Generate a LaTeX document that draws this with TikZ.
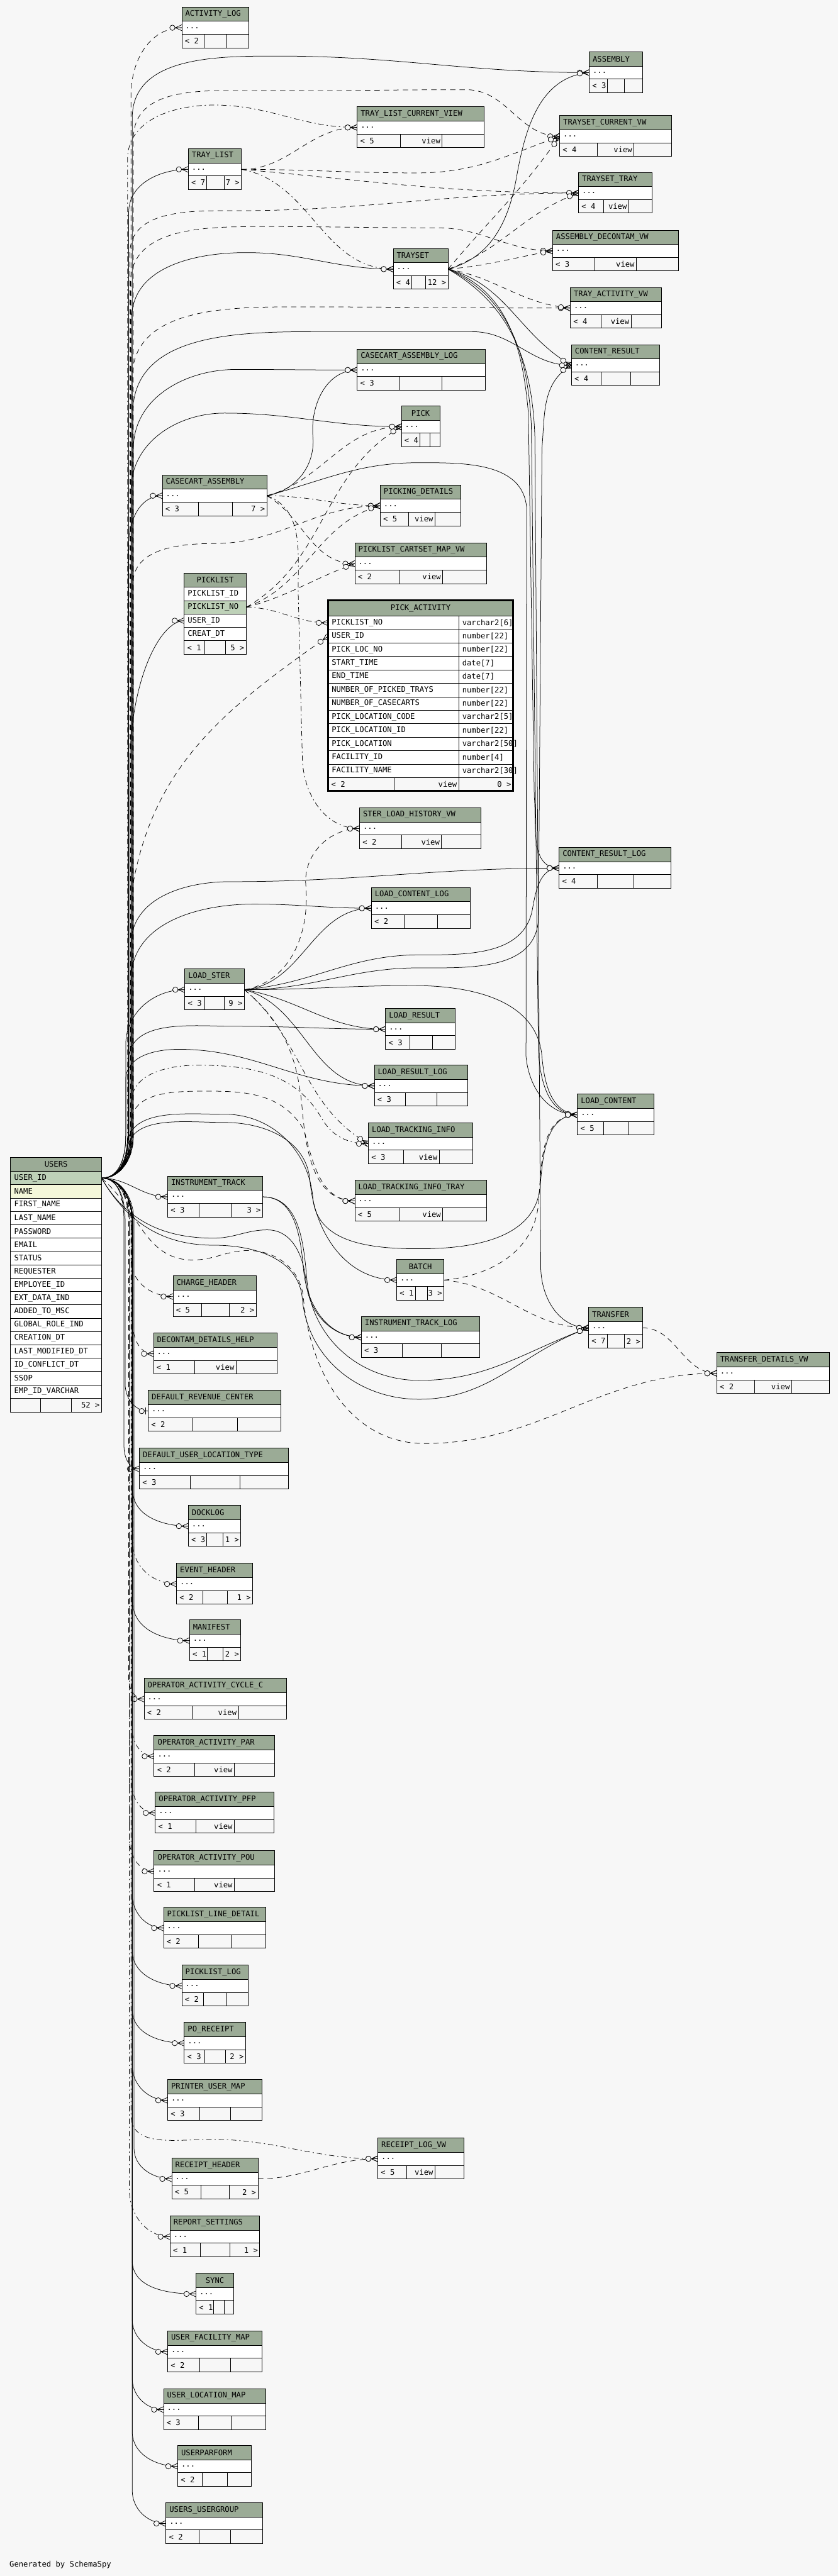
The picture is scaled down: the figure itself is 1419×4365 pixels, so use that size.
\documentclass[tikz,border=0pt]{standalone}
\usepackage{fontspec}
\setmonofont{DejaVu Sans Mono}
\usepackage{tikz}
\usetikzlibrary{arrows.meta,positioning}
\definecolor{schemabg}{HTML}{F7F7F7}
\definecolor{schemahead}{HTML}{9BAB96}
\definecolor{schemakey}{HTML}{BED1B8}
\definecolor{schemaidx}{HTML}{F4F7DA}
\pgfdeclarelayer{background}
\pgfdeclarelayer{edges}
\pgfsetlayers{background,edges,main}

\pgfdeclarearrow{
  name = Crowo,
  setup code = {
    \pgfarrowssettipend{0pt}
    \pgfarrowssetlineend{0pt}
    \pgfarrowssetbackend{-21pt}
    \pgfarrowshullpoint{0pt}{5pt}
    \pgfarrowshullpoint{0pt}{-5pt}
    \pgfarrowshullpoint{-21pt}{0pt}
  },
  drawing code = {
    \pgfsetdash{}{0pt}
    \pgfpathmoveto{\pgfqpoint{0pt}{5pt}}
    \pgfpathlineto{\pgfqpoint{-11pt}{0pt}}
    \pgfpathlineto{\pgfqpoint{0pt}{-5pt}}
    \pgfpathmoveto{\pgfqpoint{-11pt}{0pt}}
    \pgfpathlineto{\pgfqpoint{0pt}{0pt}}
    \pgfusepathqstroke
    \pgfpathcircle{\pgfqpoint{-16pt}{0pt}}{4.5pt}
    \pgfsetfillcolor{schemabg}
    \pgfusepathqfillstroke
  }
}
\pgfdeclarearrow{
  name = Teeo,
  setup code = {
    \pgfarrowssettipend{0pt}
    \pgfarrowssetlineend{0pt}
    \pgfarrowssetbackend{-16pt}
    \pgfarrowshullpoint{0pt}{5pt}
    \pgfarrowshullpoint{0pt}{-5pt}
    \pgfarrowshullpoint{-16pt}{0pt}
  },
  drawing code = {
    \pgfsetdash{}{0pt}
    \pgfpathmoveto{\pgfqpoint{-4pt}{6pt}}
    \pgfpathlineto{\pgfqpoint{-4pt}{-6pt}}
    \pgfusepathqstroke
    \pgfpathcircle{\pgfqpoint{-11pt}{0pt}}{4.5pt}
    \pgfsetfillcolor{schemabg}
    \pgfusepathqfillstroke
  }
}

\newcommand{\dbtable}[6][align=left]{%
  \pgfmathsetlengthmacro\tblw{#5-12}%
  \node[tablehead, minimum width=#5, text width=\tblw, #1] (#2) at (#3,-#4) {#6};
  \node[tablerow, minimum width=#5, text width=\tblw, below=0pt of #2] (#2-r) {...};
  \node[tablefoot, minimum width=#5, below=0pt of #2-r] (#2-f) {};
}
\newcommand{\dbfoot}[6]{%
  \draw[line width=0.9pt] (#2,0 |- #1-f.north) -- (#2,0 |- #1-f.south)
    (#3,0 |- #1-f.north) -- (#3,0 |- #1-f.south);
  \node[cellleft] (#1-a) at (#1-f.west) {#4};
  \node[cellright] (#1-b) at (#3,0 |- #1-f.west) {#5};
  \node[cellright] (#1-c) at (#1-f.east) {#6};
}

\begin{document}
\begin{tikzpicture}[
    x=1pt, y=1pt,
    font=\ttfamily\fontsize{13}{15}\selectfont,
    tablehead/.style={draw, line width=0.9pt, fill=schemahead, anchor=north west,
      minimum height=24, inner xsep=6, inner ysep=0, outer sep=0, align=left},
    tablerow/.style={draw, line width=0.9pt, fill=white, minimum height=22,
      inner xsep=6, inner ysep=0, outer sep=0, align=left},
    tablefoot/.style={draw, line width=0.9pt, fill=schemabg, minimum height=23,
      inner sep=0, outer sep=0},
    cellleft/.style={anchor=west, inner xsep=5, inner ysep=0},
    cellright/.style={anchor=east, inner xsep=3, inner ysep=0},
    fk/.style={line width=0.8pt, -Crowo},
    implied/.style={fk, dash pattern=on 9pt off 7pt},
    viewdep/.style={fk, dash pattern=on 9pt off 5pt on 2pt off 5pt}
  ]
  \useasboundingbox (0,0) rectangle (1419,-4365);
  \begin{pgfonlayer}{background}
    \fill[schemabg] (0,0) rectangle (1419,-4365);
  \end{pgfonlayer}

  \dbtable{activitylog}{308}{12}{113}{ACTIVITY\_LOG}
  \dbtable{assembly}{998}{88}{90}{ASSEMBLY}
  \dbtable{traylistcv}{605}{181}{215}{TRAY\_LIST\_CURRENT\_VIEW}
  \dbtable{traysetcv}{948}{196}{189}{TRAYSET\_CURRENT\_VW}
  \dbtable{traylist}{319}{252}{90}{TRAY\_LIST}
  \dbtable{traysettray}{980}{292}{125}{TRAYSET\_TRAY}
  \dbtable{asmdecon}{936}{390}{213}{ASSEMBLY\_DECONTAM\_VW}
  \dbtable{trayset}{666}{421}{93}{TRAYSET}
  \dbtable{trayactvw}{966}{487}{154}{TRAY\_ACTIVITY\_VW}
  \dbtable{contentresult}{968}{584}{149}{CONTENT\_RESULT}
  \dbtable{casecartlog}{605}{592}{217}{CASECART\_ASSEMBLY\_LOG}
  \dbtable[align=center]{pick}{680}{688}{65}{PICK}
  \dbtable{casecart}{275}{805}{177}{CASECART\_ASSEMBLY}
  \dbtable{pickingdet}{644}{822}{137}{PICKING\_DETAILS}
  \dbtable{cartsetmap}{601}{920}{223}{PICKLIST\_CARTSET\_MAP\_VW}
  \dbtable{sterhist}{609}{1369}{206}{STER\_LOAD\_HISTORY\_VW}
  \dbtable{contentlog}{947}{1436}{189}{CONTENT\_RESULT\_LOG}
  \dbtable{loadcontentlog}{629}{1504}{168}{LOAD\_CONTENT\_LOG}
  \dbtable{loadster}{313}{1642}{101}{LOAD\_STER}
  \dbtable{loadresult}{653}{1709}{118}{LOAD\_RESULT}
  \dbtable{loadresultlog}{634}{1805}{158}{LOAD\_RESULT\_LOG}
  \dbtable{loadtrack}{624}{1903}{177}{LOAD\_TRACKING\_INFO}
  \dbtable{loadtracktray}{601}{2000}{223}{LOAD\_TRACKING\_INFO\_TRAY}
  \dbtable{loadcontent}{978}{1854}{130}{LOAD\_CONTENT}
  \dbtable{insttrack}{284}{1993}{161}{INSTRUMENT\_TRACK}
  \dbtable[align=center]{batch}{672}{2134}{80}{BATCH}
  \dbtable{insttracklog}{612}{2231}{201}{INSTRUMENT\_TRACK\_LOG}
  \dbtable{transfer}{997}{2215}{91}{TRANSFER}
  \dbtable{transfervw}{1214}{2292}{191}{TRANSFER\_DETAILS\_VW}
  \dbtable{chargehdr}{293}{2162}{141}{CHARGE\_HEADER}
  \dbtable{decontamhelp}{260}{2259}{209}{DECONTAM\_DETAILS\_HELP}
  \dbtable{revcenter}{251}{2356}{225}{DEFAULT\_REVENUE\_CENTER}
  \dbtable{locationtype}{236}{2454}{253}{DEFAULT\_USER\_LOCATION\_TYPE}
  \dbtable{docklog}{319}{2551}{89}{DOCKLOG}
  \dbtable{eventhdr}{299}{2649}{129}{EVENT\_HEADER}
  \dbtable{manifest}{321}{2745}{87}{MANIFEST}
  \dbtable{opcycle}{244}{2844}{241}{OPERATOR\_ACTIVITY\_CYCLE\_C}
  \dbtable{oppar}{261}{2941}{204}{OPERATOR\_ACTIVITY\_PAR}
  \dbtable{oppfp}{263}{3037}{201}{OPERATOR\_ACTIVITY\_PFP}
  \dbtable{oppou}{261}{3136}{204}{OPERATOR\_ACTIVITY\_POU}
  \dbtable{linedetail}{277}{3232}{173}{PICKLIST\_LINE\_DETAIL}
  \dbtable{picklistlog}{308}{3330}{112}{PICKLIST\_LOG}
  \dbtable{poreceipt}{312}{3427}{104}{PO\_RECEIPT}
  \dbtable{printermap}{284}{3524}{160}{PRINTER\_USER\_MAP}
  \dbtable{receiptvw}{640}{3623}{146}{RECEIPT\_LOG\_VW}
  \dbtable{receipthdr}{291}{3657}{146}{RECEIPT\_HEADER}
  \dbtable{reportset}{288}{3755}{152}{REPORT\_SETTINGS}
  \dbtable[align=center]{sync}{332}{3852}{64}{SYNC}
  \dbtable{facilitymap}{284}{3950}{160}{USER\_FACILITY\_MAP}
  \dbtable{locationmap}{277}{4048}{173}{USER\_LOCATION\_MAP}
  \dbtable{userparform}{301}{4144}{125}{USERPARFORM}
  \dbtable{usergroup}{281}{4241}{164}{USERS\_USERGROUP}

  \dbfoot{activitylog}{346}{384}{< 2}{}{}
  \dbfoot{assembly}{1029}{1058}{< 3}{}{}
  \dbfoot{traylistcv}{678}{749}{< 5}{view}{}
  \dbfoot{traysetcv}{1012}{1074}{< 4}{view}{}
  \dbfoot{traylist}{350}{380}{< 7}{}{7 >}
  \dbfoot{traysettray}{1022}{1065}{< 4}{view}{}
  \dbfoot{asmdecon}{1008}{1078}{< 3}{view}{}
  \dbfoot{trayset}{697}{721}{< 4}{}{12 >}
  \dbfoot{trayactvw}{1018}{1069}{< 4}{view}{}
  \dbfoot{contentresult}{1018}{1068}{< 4}{}{}
  \dbfoot{casecartlog}{677}{749}{< 3}{}{}
  \dbfoot{pick}{711}{728}{< 4}{}{}
  \dbfoot{casecart}{336}{394}{< 3}{}{7 >}
  \dbfoot{pickingdet}{692}{737}{< 5}{view}{}
  \dbfoot{cartsetmap}{676}{750}{< 2}{view}{}
  \dbfoot{sterhist}{680}{748}{< 2}{view}{}
  \dbfoot{contentlog}{1012}{1074}{< 4}{}{}
  \dbfoot{loadcontentlog}{685}{741}{< 2}{}{}
  \dbfoot{loadster}{347}{380}{< 3}{}{9 >}
  \dbfoot{loadresult}{694}{733}{< 3}{}{}
  \dbfoot{loadresultlog}{687}{740}{< 3}{}{}
  \dbfoot{loadtrack}{684}{744}{< 3}{view}{}
  \dbfoot{loadtracktray}{676}{750}{< 5}{view}{}
  \dbfoot{loadcontent}{1022}{1065}{< 5}{}{}
  \dbfoot{insttrack}{337}{392}{< 3}{}{3 >}
  \dbfoot{batch}{704}{724}{< 1}{}{3 >}
  \dbfoot{insttracklog}{681}{748}{< 3}{}{}
  \dbfoot{transfer}{1029}{1058}{< 7}{}{2 >}
  \dbfoot{transfervw}{1278}{1341}{< 2}{view}{}
  \dbfoot{chargehdr}{341}{388}{< 5}{}{2 >}
  \dbfoot{decontamhelp}{330}{400}{< 1}{view}{}
  \dbfoot{revcenter}{327}{402}{< 2}{}{}
  \dbfoot{locationtype}{322}{406}{< 3}{}{}
  \dbfoot{docklog}{350}{378}{< 3}{}{1 >}
  \dbfoot{eventhdr}{344}{385}{< 2}{}{1 >}
  \dbfoot{manifest}{351}{378}{< 1}{}{2 >}
  \dbfoot{opcycle}{325}{404}{< 2}{view}{}
  \dbfoot{oppar}{330}{397}{< 2}{view}{}
  \dbfoot{oppfp}{332}{397}{< 1}{view}{}
  \dbfoot{oppou}{330}{397}{< 1}{view}{}
  \dbfoot{linedetail}{336}{392}{< 2}{}{}
  \dbfoot{picklistlog}{345}{384}{< 2}{}{}
  \dbfoot{poreceipt}{347}{382}{< 3}{}{2 >}
  \dbfoot{printermap}{338}{391}{< 3}{}{}
  \dbfoot{receiptvw}{689}{737}{< 5}{view}{}
  \dbfoot{receipthdr}{340}{388}{< 5}{}{2 >}
  \dbfoot{reportset}{339}{389}{< 1}{}{1 >}
  \dbfoot{sync}{362}{380}{< 1}{}{}
  \dbfoot{facilitymap}{338}{391}{< 2}{}{}
  \dbfoot{locationmap}{336}{392}{< 3}{}{}
  \dbfoot{userparform}{343}{385}{< 2}{}{}
  \dbfoot{usergroup}{337}{391}{< 2}{}{}

  \node[tablehead, minimum width=154, text width=142, align=center] (users) at (18,-1961) {USERS};
  \node[tablerow, anchor=north west, minimum width=154, minimum height=22.6, text width=142, fill=schemakey] (users-1) at (18,-1985) {USER\_ID};
  \node[tablerow, anchor=north west, minimum width=154, minimum height=22.6, text width=142, fill=schemaidx] (users-2) at (18,-2007.6) {NAME};
  \foreach \col [count=\i from 3] in {FIRST\_NAME, LAST\_NAME, PASSWORD, EMAIL, STATUS, REQUESTER, EMPLOYEE\_ID, EXT\_DATA\_IND, ADDED\_TO\_MSC, GLOBAL\_ROLE\_IND, CREATION\_DT, LAST\_MODIFIED\_DT, ID\_CONFLICT\_DT, SSOP, EMP\_ID\_VARCHAR}
    \node[tablerow, anchor=north west, minimum width=154, minimum height=22.6, text width=142] (users-\i) at (18,{-1985-22.6*(\i-1)}) {\col};
  \node[tablefoot, anchor=north west, minimum width=154, minimum height=23.3] (users-f) at (18,-2369.2) {};
  \dbfoot{users}{69}{121}{}{}{52 >}

  \node[tablehead, minimum width=105, text width=93, align=center] (picklist) at (312,-971) {PICKLIST};
  \node[tablerow, minimum width=105, minimum height=22.7, text width=93, below=0pt of picklist] (picklist-1) {PICKLIST\_ID};
  \node[tablerow, minimum width=105, minimum height=22.7, text width=93, fill=schemakey, below=0pt of picklist-1] (picklist-2) {PICKLIST\_NO};
  \node[tablerow, minimum width=105, minimum height=22.7, text width=93, below=0pt of picklist-2] (picklist-3) {USER\_ID};
  \node[tablerow, minimum width=105, minimum height=22.7, text width=93, below=0pt of picklist-3] (picklist-4) {CREAT\_DT};
  \node[tablefoot, minimum width=105, below=0pt of picklist-4] (picklist-f) {};
  \dbfoot{picklist}{347}{382}{< 1}{}{5 >}

  \node[tablehead, minimum width=313, minimum height=27, text width=301, align=center] (pickact) at (556,-1017) {PICK\_ACTIVITY};
  \foreach \col/\typ [count=\i] in {{PICKLIST\_NO}/{varchar2[6]}, {USER\_ID}/{number[22]}, {PICK\_LOC\_NO}/{number[22]}, {START\_TIME}/{date[7]}, {END\_TIME}/{date[7]}, {NUMBER\_OF\_PICKED\_TRAYS}/{number[22]}, {NUMBER\_OF\_CASECARTS}/{number[22]}, {PICK\_LOCATION\_CODE}/{varchar2[5]}, {PICK\_LOCATION\_ID}/{number[22]}, {PICK\_LOCATION}/{varchar2[50]}, {FACILITY\_ID}/{number[4]}, {FACILITY\_NAME}/{varchar2[30]}} {
    \node[tablerow, anchor=north west, minimum width=221, minimum height=22.8, text width=209] (pickact-\i) at (556,{-1044-22.8*(\i-1)}) {\col};
    \node[tablerow, anchor=north west, minimum width=92, minimum height=22.8, text width=80] (pickact-t\i) at (777,{-1044-22.8*(\i-1)}) {\typ};
  }
  \node[tablefoot, anchor=north west, minimum width=313, minimum height=22.4] (pickact-f) at (556,-1317.6) {};
  \dbfoot{pickact}{668}{777}{< 2}{view}{0 >}
  \draw[line width=3pt] (pickact.north west) rectangle (pickact-f.south east);

  \node[anchor=west, inner sep=0] (credit) at (16,-4346) {Generated by SchemaSpy};

  \begin{pgfonlayer}{edges}
  \draw[implied] (users-1.east) to[out=0,in=-90] (222,-1925) -- (222,-160) to[out=90,in=180] (activitylog-r.west);
  \draw[fk] (users-1.east) to[out=0,in=-90] (224,-1925) -- (224,-200) to[out=90,in=180] (470,-95) to[out=0,in=180] (assembly-r.west);
  \draw[implied] (users-1.east) to[out=0,in=-90] (226,-1925) -- (226,-235) to[out=90,in=180] (453,-154) to[out=0,in=180] (790,-152) to[out=0,in=180] (traysetcv-r.west);
  \draw[viewdep] (users-1.east) to[out=0,in=-90] (216,-1925) -- (216,-270) to[out=90,in=180] (362,-178) to[out=0,in=180] (traylistcv-r.west);
  \draw[fk] (users-1.east) to[out=0,in=-90] (218,-1925) -- (218,-360) to[out=90,in=180] (traylist-r.west);
  \draw[implied] (users-1.east) to[out=0,in=-90] (220,-1925) -- (220,-430) to[out=90,in=180] (400,-357) to[out=0,in=180] (traysettray-r.west);
  \draw[implied] (users-1.east) to[out=0,in=-90] (221,-1925) -- (221,-480) to[out=90,in=180] (453,-384) to[out=0,in=180] (740,-386) to[out=0,in=180] (asmdecon-r.west);
  \draw[fk] (users-1.east) to[out=0,in=-90] (223,-1925) -- (223,-540) to[out=90,in=180] (417,-428) to[out=0,in=180] (trayset-r.west);
  \draw[implied] (users-1.east) to[out=0,in=-90] (224,-1925) -- (224,-640) to[out=90,in=180] (500,-520) to[out=0,in=180] (trayactvw-r.west);
  \draw[fk] (users-1.east) to[out=0,in=-90] (225,-1925) -- (225,-700) to[out=90,in=180] (560,-562) -- (800,-562) to[out=0,in=180] (contentresult-r.west);
  \draw[fk] (users-1.east) to[out=0,in=-90] (226,-1925) -- (226,-760) to[out=90,in=180] (400,-626) to[out=0,in=180] (casecartlog-r.west);
  \draw[fk] (users-1.east) to[out=0,in=-90] (222,-1925) -- (222,-830) to[out=90,in=180] (380,-700) to[out=0,in=180] (pick-r.west);
  \draw[fk] (users-1.east) to[out=0,in=-90] (217,-1925) -- (217,-930) to[out=90,in=180] (casecart-r.west);
  \draw[implied] (users-1.east) to[out=0,in=-90] (225,-1925) -- (225,-990) to[out=90,in=180] (362,-921) to[out=0,in=180] (pickingdet-r.west);
  \draw[fk] (users-1.east) to[out=0,in=-90] (220,-1925) -- (220,-1300) to[out=90,in=180,out distance=150,in distance=40] (picklist-3.west);
  \draw[implied] (users-1.east) to[out=0,in=-90] (225,-1925) -- (225,-1500) to[out=80,in=215] (pickact-2.west);
  \draw[fk] (users-1.east) to[out=0,in=-90] (222,-1925) -- (222,-1600) to[out=90,in=180] (389,-1494) to[out=0,in=180] (contentlog-r.west);
  \draw[fk] (users-1.east) to[out=0,in=-90] (222,-1925) -- (222,-1660) to[out=90,in=180] (430,-1532) to[out=0,in=180] (loadcontentlog-r.west);
  \draw[fk] (users-1.east) to[out=0,in=-90] (213,-1925) -- (213,-1770) to[out=90,in=180] (loadster-r.west);
  \draw[fk] (users-1.east) to[out=0,in=-90] (217,-1925) -- (217,-1800) to[out=90,in=180] (399,-1739) to[out=0,in=180] (loadresult-r.west);
  \draw[fk] (users-1.east) to[out=0,in=-90] (213,-1925) -- (213,-1830) to[out=90,in=180] (303,-1778) to[out=0,in=180] (loadresultlog-r.west);
  \draw[viewdep] (users-1.east) to[out=0,in=-90] (222,-1915) -- (222,-1870) to[out=90,in=180] (335,-1805) to[out=0,in=120] (545,-1895) to[out=-60,in=180] (loadtrack-r.west);
  \draw[implied] (users-1.east) to[out=0,in=-90] (222,-1905) to[out=90,in=180] (362,-1849) to[out=0,in=120] (515,-1915) to[out=-75,in=180] (loadtracktray-r.west);
  \draw[fk] (users-1.east) to[out=0,in=-90] (215,-1955) to[out=90,in=180] (380,-1902) to[out=0,in=95] (525,-2000) to[out=-85,in=180] (batch-r.west);
  \draw[fk] (users-1.east) to[out=0,in=-90] (215,-1945) to[out=90,in=180] (380,-1888) to[out=0,in=95] (530,-2030) to[out=-85,in=180] (710,-2116) to[out=0,in=-95] (915,-2010) to[out=85,in=180] (loadcontent-r.west);
  \draw[fk] (users-1.east) to[out=0,in=180] (insttrack-r.west);
  \draw[fk] (users-1.east) to[out=-60,in=180] (362,-2098) to[out=0,in=180] (453,-2084) to[out=0,in=95] (518,-2170) to[out=-85,in=180] (insttracklog-r.west);
  \draw[fk] (users-1.east) to[out=-60,in=180] (362,-2110) to[out=0,in=95] (512,-2200) to[out=-85,in=180] (710,-2371) to[out=0,in=200] (transfer-r.west);
  \draw[implied] (users-1.east) to[out=-40,in=180] (326,-2135) to[out=0,in=180] (421,-2119) to[out=0,in=95] (514,-2200) to[out=-85,in=180] (719,-2446) to[out=0,in=180] (transfervw-r.west);
  \draw[implied] (users-1.east) to[out=0,in=90] (222,-2080) -- (222,-2135) to[out=-90,in=180] (chargehdr-r.west);

  \draw[implied] (users-1.east) to[out=0,in=90] (224,-2070) -- (224,-2235) to[out=-90,in=180] (decontamhelp-r.west);
  \draw[fk,-Teeo] (users-1.east) to[out=0,in=90] (212,-2070) -- (212,-2345) to[out=-90,in=180] (revcenter-r.west);
  \draw[fk] (users-1.east) to[out=0,in=90] (210,-2070) -- (210,-2450) to[out=-90,in=180] (locationtype-r.west);
  \draw[fk] (users-1.east) to[out=0,in=90] (225,-2070) -- (225,-2525) to[out=-90,in=180] (docklog-r.west);
  \draw[viewdep] (users-1.east) to[out=0,in=90] (225,-2070) -- (225,-2615) to[out=-90,in=180] (eventhdr-r.west);
  \draw[fk] (users-1.east) to[out=0,in=90] (225,-2070) -- (225,-2715) to[out=-90,in=180] (manifest-r.west);
  \draw[implied] (users-1.east) to[out=0,in=90] (218,-2070) -- (218,-2845) to[out=-90,in=180] (opcycle-r.west);
  \draw[viewdep] (users-1.east) to[out=0,in=90] (223,-2070) -- (223,-2925) to[out=-90,in=180] (oppar-r.west);
  \draw[viewdep] (users-1.east) to[out=0,in=90] (223,-2070) -- (223,-3020) to[out=-90,in=180] (oppfp-r.west);
  \draw[implied] (users-1.east) to[out=0,in=90] (219,-2070) -- (219,-3115) to[out=-90,in=180] (oppou-r.west);
  \draw[fk] (users-1.east) to[out=0,in=90] (224,-2070) -- (224,-3210) to[out=-90,in=180] (linedetail-r.west);
  \draw[fk] (users-1.east) to[out=0,in=90] (224,-2070) -- (224,-3305) to[out=-90,in=180] (picklistlog-r.west);
  \draw[fk] (users-1.east) to[out=0,in=90] (224,-2070) -- (224,-3405) to[out=-90,in=180] (poreceipt-r.west);
  \draw[fk] (users-1.east) to[out=0,in=90] (224,-2070) -- (224,-3500) to[out=-90,in=180] (printermap-r.west);
  \draw[viewdep] (users-1.east) to[out=0,in=90] (222,-2070) -- (222,-3585) to[out=-90,in=180] (357,-3625) to[out=0,in=180] (receiptvw-r.west);
  \draw[fk] (users-1.east) to[out=0,in=90] (227,-2070) -- (227,-3640) to[out=-90,in=180] (receipthdr-r.west);
  \draw[viewdep] (users-1.east) to[out=0,in=90] (219,-2070) -- (219,-3710) to[out=-90,in=180] (reportset-r.west);
  \draw[fk] (users-1.east) to[out=0,in=90] (224,-2070) -- (224,-3830) to[out=-90,in=180] (sync-r.west);
  \draw[fk] (users-1.east) to[out=0,in=90] (224,-2070) -- (224,-3930) to[out=-90,in=180] (facilitymap-r.west);
  \draw[fk] (users-1.east) to[out=0,in=90] (224,-2070) -- (224,-4030) to[out=-90,in=180] (locationmap-r.west);
  \draw[fk] (users-1.east) to[out=0,in=90] (224,-2070) -- (224,-4120) to[out=-90,in=180] (userparform-r.west);
  \draw[fk] (users-1.east) to[out=0,in=90] (224,-2070) -- (224,-4220) to[out=-90,in=180] (usergroup-r.west);

  \draw[implied] (traylist-r.east) to[out=0,in=180] (traylistcv-r.west);
  \draw[implied] (traylist-r.east) to[out=0,in=180] (706,-293) to[out=0,in=200] (traysetcv-r.west);
  \draw[implied] (traylist-r.east) to[out=-5,in=180] (traysettray-r.west);
  \draw[viewdep] (traylist-r.east) to[out=-10,in=180] (trayset-r.west);

  \draw[fk] (trayset-r.east) to[out=15,in=-100] (875,-300) to[out=80,in=185] (assembly-r.west);
  \draw[implied] (trayset-r.east) to[out=50,in=235] (traysetcv-r.west);
  \draw[implied] (trayset-r.east) to[out=20,in=200] (traysettray-r.west);
  \draw[implied] (trayset-r.east) to[out=5,in=190] (asmdecon-r.west);
  \draw[implied] (trayset-r.east) to[out=-10,in=175] (trayactvw-r.west);
  \draw[fk] (trayset-r.east) to[out=-15,in=150] (contentresult-r.west);
  \draw[fk] (trayset-r.east) to[out=-20,in=95] (895,-700) -- (905,-1350) to[out=-85,in=180] (contentlog-r.west);
  \draw[fk] (trayset-r.east) to[out=-25,in=93] (900,-720) -- (912,-1780) to[out=-87,in=180] (loadcontent-r.west);
  \draw[fk] (trayset-r.east) to[out=-30,in=92] (906,-740) -- (916,-2150) to[out=-88,in=180] (transfer-r.west);

  \draw[fk] (casecart-r.east) to[out=10,in=-85] (530,-740) to[out=95,in=180] (casecartlog-r.west);
  \draw[implied] (casecart-r.east) to[out=15,in=180] (pick-r.west);
  \draw[viewdep] (casecart-r.east) to[out=0,in=180] (pickingdet-r.west);
  \draw[implied] (casecart-r.east) to[out=-30,in=180] (cartsetmap-r.west);
  \draw[viewdep] (casecart-r.east) to[out=-20,in=90] (505,-1000) -- (512,-1280) to[out=-90,in=180] (sterhist-r.west);
  \draw[fk] (casecart-r.east) to[out=15,in=180] (710,-784) to[out=0,in=95] (892,-860) -- (891,-1790) to[out=-85,in=180] (loadcontent-r.west);

  \draw[viewdep] (picklist-2.east) to[out=0,in=180] (pickact-1.west);
  \draw[implied] (picklist-2.east) to[out=30,in=210] (pick-r.west);
  \draw[implied] (picklist-2.east) to[out=20,in=195] (pickingdet-r.west);
  \draw[implied] (picklist-2.east) to[out=15,in=200] (cartsetmap-r.west);

  \draw[implied] (loadster-r.east) to[out=10,in=-85] (518,-1500) to[out=95,in=180] (sterhist-r.west);
  \draw[fk] (loadster-r.east) to[out=5,in=180] (loadcontentlog-r.west);
  \draw[fk] (loadster-r.east) to[out=5,in=180] (710,-1618) to[out=0,in=-100] (902,-1540) to[out=80,in=180] (contentlog-r.west);
  \draw[fk] (loadster-r.east) to[out=0,in=180] (710,-1640) to[out=0,in=-95] (912,-1560) -- (918,-760) to[out=85,in=210] (contentresult-r.west);
  \draw[fk] (loadster-r.east) to[out=0,in=180] (700,-1670) to[out=0,in=95] (918,-1790) to[out=-85,in=175] (loadcontent-r.west);
  \draw[fk] (loadster-r.east) to[out=-10,in=180] (loadresult-r.west);
  \draw[fk] (loadster-r.east) to[out=-15,in=180] (loadresultlog-r.west);
  \draw[viewdep] (loadster-r.east) to[out=-40,in=150] (loadtrack-r.west);
  \draw[implied] (loadster-r.east) to[out=-40,in=95] (512,-1880) to[out=-85,in=180] (loadtracktray-r.west);

  \draw[implied] (batch-r.east) to[out=5,in=-95] (912,-2040) to[out=85,in=180] (loadcontent-r.west);
  \draw[implied] (batch-r.east) to[out=-5,in=180] (transfer-r.west);
  \draw[implied] (transfer-r.east) to[out=0,in=180] (transfervw-r.west);
  \draw[fk] (insttrack-r.east) to[out=0,in=95] (514,-2150) to[out=-85,in=180] (insttracklog-r.west);
  \draw[fk] (insttrack-r.east) to[out=0,in=95] (520,-2170) to[out=-85,in=180] (710,-2339) to[out=0,in=200] (transfer-r.west);
  \draw[implied] (receipthdr-r.east) to[out=0,in=180] (receiptvw-r.west);
  \end{pgfonlayer}
\end{tikzpicture}
\end{document}
